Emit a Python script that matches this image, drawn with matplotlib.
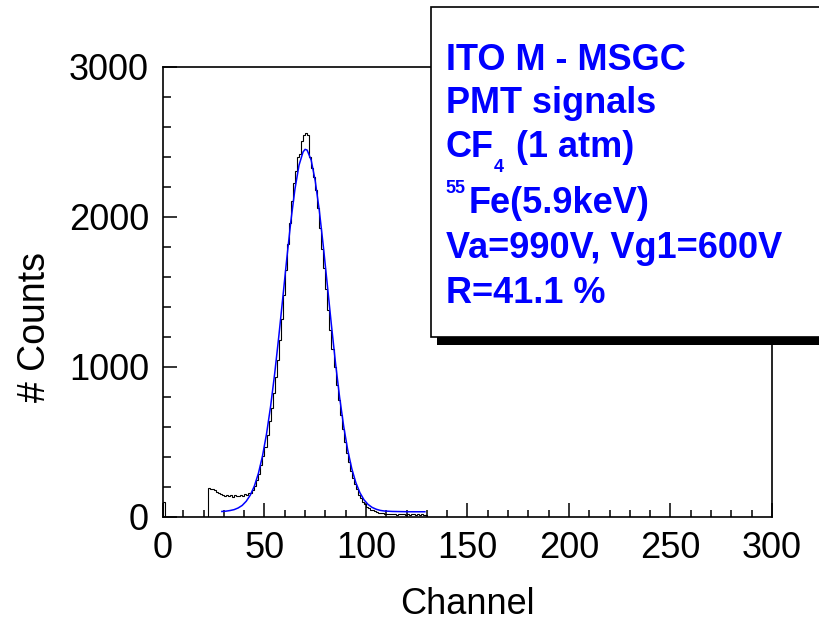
import numpy as np
import matplotlib
matplotlib.use("Agg")
import matplotlib.pyplot as plt
from matplotlib.patches import Rectangle

plt.rcParams["font.family"] = ["Liberation Sans", "DejaVu Sans"]

# ---------------------------------------------------------------------------
# data
# ---------------------------------------------------------------------------
# a lone bin sits in channel 0, channels 1..21 are empty
ch0_count = 100
hist_first_channel = 22
hist_counts = [
    195, 190, 186, 178, 170, 162, 155, 150, 143, 147,   # 22-31
    138, 144, 136, 146, 138, 142, 150, 140, 152, 148,   # 32-41
    158, 162, 178, 205, 245, 285, 345, 405, 470, 545,   # 42-51
    640, 725, 825, 935, 1045, 1180, 1320, 1480, 1650, 1820,  # 52-61
    1960, 2110, 2230, 2310, 2400, 2420, 2510, 2545, 2560, 2550,  # 62-71
    2400, 2330, 2270, 2180, 2060, 1930, 1790, 1660, 1520, 1380,  # 72-81
    1250, 1120, 1000, 880, 780, 680, 590, 500, 430, 370,   # 82-91
    310, 260, 220, 185, 150, 125, 100, 85, 70, 60,         # 92-101
    50, 44, 38, 32, 30, 28, 25, 22, 20, 18,                # 102-111
    20, 17, 19, 16, 18, 20, 17, 15, 18, 16,                # 112-121
    19, 17, 15, 18, 16, 17, 15, 16,                        # 122-129
]

# gaussian fit (blue)
fit_channel = [29, 31, 33, 35, 37, 39, 41, 43, 45, 47, 49, 51, 53, 55, 57,
               59, 61, 63, 65, 67, 69, 70, 71, 73, 75, 77, 79, 81, 83, 85,
               87, 89, 91, 93, 95, 97, 99, 101, 103, 105, 107, 109, 113, 117,
               121, 125, 129]
fit_counts = [37, 39, 43, 49, 60, 77, 105, 146, 206, 291, 406, 554, 737, 954,
              1198, 1460, 1725, 1974, 2186, 2345, 2434, 2451, 2446, 2379, 2240,
              2043, 1802, 1540, 1275, 1024, 798, 605, 446, 322, 229, 162, 115,
              84, 64, 52, 44, 40, 37, 36, 35, 35, 35]

x_ticks = [0, 50, 100, 150, 200, 250, 300]
y_ticks = [0, 1000, 2000, 3000]

W, H = 820, 622


def px(x, y):
    """image pixel (top-left origin) -> figure fraction"""
    return x / W, 1 - y / H


# ---------------------------------------------------------------------------
fig = plt.figure(figsize=(W / 100, H / 100), dpi=100)
ax = fig.add_axes([163 / W, 1 - 517 / H, (772 - 163) / W, (517 - 67) / H])

values = np.concatenate([[ch0_count], np.zeros(hist_first_channel - 1), hist_counts])
edges = np.arange(len(values) + 1)
ax.stairs(values, edges, color="black", lw=0.8, baseline=0)
ax.plot(fit_channel, fit_counts, color="#0000ff", lw=1.1)

ax.set_xlim(0, 300)
ax.set_ylim(0, 3000)
ax.set_xticks(x_ticks)
ax.set_xticks(np.arange(0, 301, 10), minor=True)
ax.set_yticks(y_ticks)
ax.set_yticks(np.arange(0, 3001, 200), minor=True)
ax.tick_params(which="both", direction="in", top=False, right=False,
               width=1.1, labelsize=26)
ax.tick_params(axis="x", which="major", length=10, pad=10)
ax.tick_params(axis="x", which="minor", length=5)
ax.tick_params(axis="y", which="major", length=10, pad=10)
ax.tick_params(axis="y", which="minor", length=5.5)
for sp in ax.spines.values():
    sp.set_linewidth(1.2)

fig.text(*px(467, 605), "Channel", fontsize=26, ha="center", va="center")
fig.text(*px(35, 327), "# Counts", fontsize=27, ha="center", va="center",
         rotation=90)

# legend box with drop shadow
x0, y0 = px(437, 345)
fig.add_artist(Rectangle((x0, y0), 1.2 - x0, px(0, 15)[1] - y0,
                         transform=fig.transFigure, facecolor="black",
                         edgecolor="none", zorder=5))
x0, y0 = px(431, 337)
fig.add_artist(Rectangle((x0, y0), 1.2 - x0, px(0, 7)[1] - y0,
                         transform=fig.transFigure, facecolor="white",
                         edgecolor="black", lw=1.2, zorder=6))

blue = "#0000ff"
kw = dict(color=blue, fontweight="bold", va="baseline", ha="left", zorder=7)
big, small = 26, 13
fig.text(*px(446, 70), "ITO M - MSGC", fontsize=big, **kw)
fig.text(*px(446, 113), "PMT signals", fontsize=big, **kw)
fig.text(*px(446, 157), "CF", fontsize=big, **kw)
fig.text(*px(494, 172), "4", fontsize=small, **kw)
fig.text(*px(516, 157), "(1 atm)", fontsize=big, **kw)
fig.text(*px(445, 193), "55", fontsize=small, **kw)
fig.text(*px(469, 213), "Fe(5.9keV)", fontsize=big, **kw)
fig.text(*px(446, 258), "Va=990V, Vg1=600V", fontsize=big, **kw)
fig.text(*px(446, 303), "R=41.1 %", fontsize=big, **kw)

fig.savefig("out.png", dpi=100)
